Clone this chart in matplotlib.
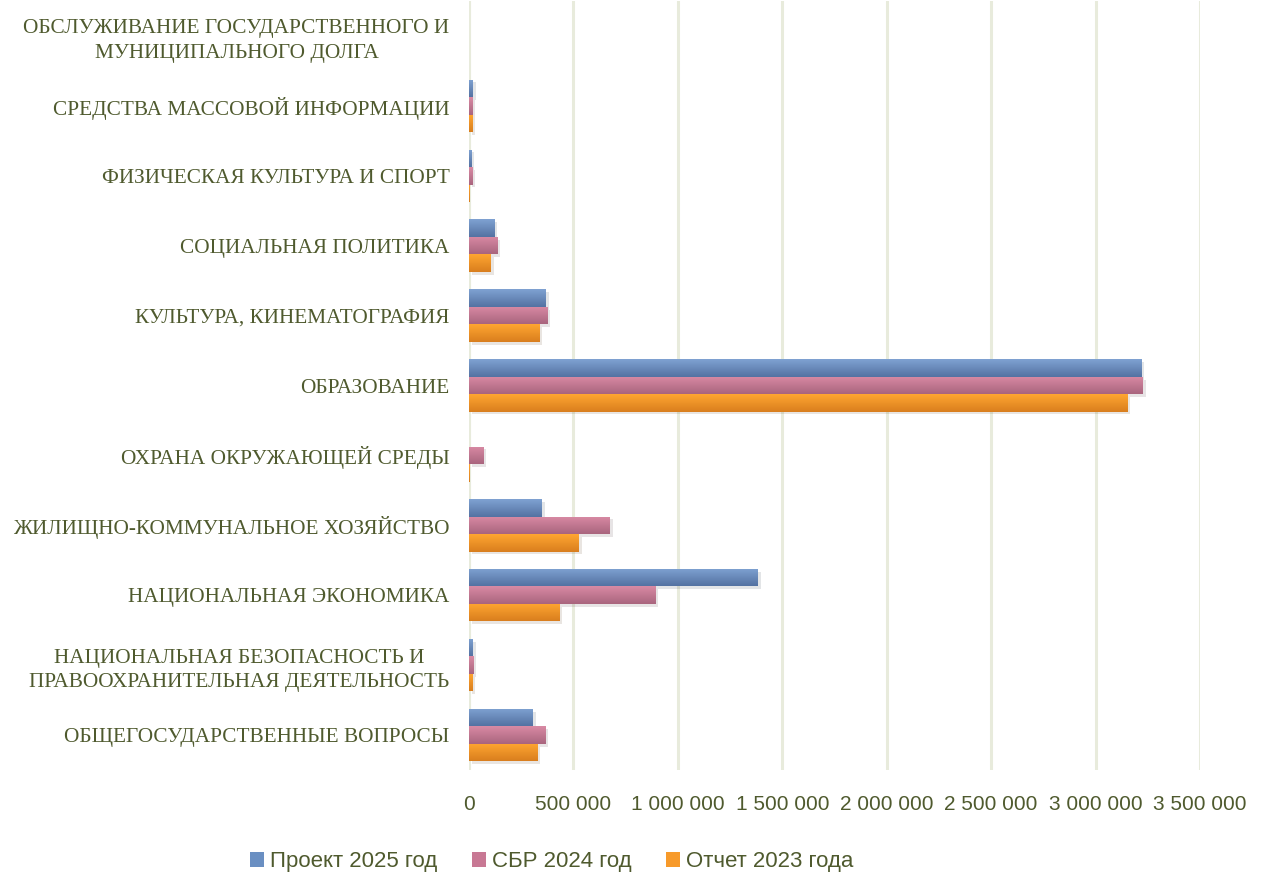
import numpy as np
import matplotlib
matplotlib.use('Agg')
import matplotlib.pyplot as plt
from matplotlib import patheffects as pe
from matplotlib.colors import LinearSegmentedColormap
from matplotlib.patches import Patch

# данные (снизу вверх)
categories = [
    'ОБЩЕГОСУДАРСТВЕННЫЕ ВОПРОСЫ',
    'НАЦИОНАЛЬНАЯ БЕЗОПАСНОСТЬ И\nПРАВООХРАНИТЕЛЬНАЯ ДЕЯТЕЛЬНОСТЬ',
    'НАЦИОНАЛЬНАЯ ЭКОНОМИКА',
    'ЖИЛИЩНО-КОММУНАЛЬНОЕ ХОЗЯЙСТВО',
    'ОХРАНА ОКРУЖАЮЩЕЙ СРЕДЫ',
    'ОБРАЗОВАНИЕ',
    'КУЛЬТУРА, КИНЕМАТОГРАФИЯ',
    'СОЦИАЛЬНАЯ ПОЛИТИКА',
    'ФИЗИЧЕСКАЯ КУЛЬТУРА И СПОРТ',
    'СРЕДСТВА МАССОВОЙ ИНФОРМАЦИИ',
    'ОБСЛУЖИВАНИЕ ГОСУДАРСТВЕННОГО И\nМУНИЦИПАЛЬНОГО ДОЛГА',
]
proekt_2025 = [306000, 18000, 1383000, 349000, 0, 3218000, 368000, 120000, 10000, 18000, 0]
sbr_2024 = [365000, 21000, 893000, 675000, 70000, 3226000, 375000, 137000, 16000, 16000, 0]
otchet_2023 = [329000, 16000, 432000, 526000, 3000, 3152000, 338000, 105000, 2000, 16000, 0]

series = [
    ('Проект 2025 год', proekt_2025, '#6A8FC2', '#7FA2D2', '#5472A2', 0.25),
    ('СБР 2024 год', sbr_2024, '#C87894', '#D98AA4', '#A9657E', 0.0),
    ('Отчет 2023 года', otchet_2023, '#F79A2A', '#FFA631', '#D97E1E', -0.25),
]

text_color = '#4F5A2E'
bar_h = 0.25

fig = plt.figure(figsize=(12.62, 8.77), dpi=100)
ax = fig.add_axes([469 / 1262, 1 - 770 / 877, (1200 - 469) / 1262, 769 / 877])

y = np.arange(len(categories))
handles = []
for name, vals, col, top, bot, off in series:
    bars = ax.barh(y + off, vals, height=bar_h, color=col, zorder=3,
                   path_effects=[pe.SimplePatchShadow(offset=(2, -2), alpha=0.12), pe.Normal()])
    cmap = LinearSegmentedColormap.from_list('g', [bot, top])
    grad = np.linspace(0, 1, 64).reshape(-1, 1)
    for b in bars:
        if b.get_width() <= 0:
            continue
        x0, y0 = b.get_x(), b.get_y()
        im = ax.imshow(grad, cmap=cmap, aspect='auto', origin='lower',
                       extent=[x0, x0 + b.get_width(), y0, y0 + b.get_height()], zorder=4)
        im.set_clip_path(b)
    handles.append(Patch(facecolor=col, label=name))

ax.set_xlim(0, 3500000)
ax.set_ylim(-0.5, len(categories) - 0.5)
ax.set_xticks(np.arange(0, 3500001, 500000))
ax.set_xticklabels([f'{v:,}'.replace(',', ' ') for v in range(0, 3500001, 500000)],
                   fontsize=15, color=text_color, family='Liberation Sans')
ax.set_yticks(y)
ax.set_yticklabels(categories, fontsize=15.3, color=text_color, family='Liberation Serif',
                   ha='right', multialignment='center', linespacing=1.4)
ax.tick_params(axis='y', length=0, pad=14)
ax.tick_params(axis='x', length=0, pad=18)
ax.grid(axis='x', color='#E8EBDC', linewidth=2.2, zorder=0)
ax.set_axisbelow(True)
for s in ax.spines.values():
    s.set_visible(False)
ax.axvline(0, color='#E8EBDC', linewidth=2.2, zorder=1)

leg = fig.legend(handles=handles, loc='center', bbox_to_anchor=(552 / 1262, 1 - 862 / 877), ncol=3,
                 frameon=False, handlelength=0.63, handleheight=0.63, handletextpad=0.27,
                 columnspacing=1.55, prop={'family': 'Liberation Sans', 'size': 16})
for t in leg.get_texts():
    t.set_color(text_color)

fig.savefig('out.png', dpi=100)
